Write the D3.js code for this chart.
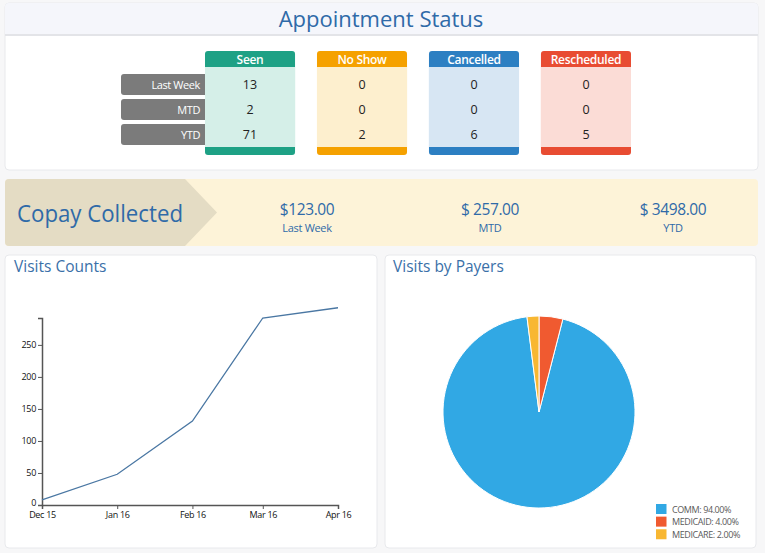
<!DOCTYPE html>
<html>
<head>
<meta charset="utf-8">
<script src="https://cdn.jsdelivr.net/npm/d3@7"></script>
<style>
  html, body { margin: 0; padding: 0; background: #f7f7f8; }
  svg { display: block; font-family: "Open Sans", "DejaVu Sans", sans-serif; }
</style>
</head>
<body>
<svg id="chart" width="765" height="553"></svg>
<script>
// ---------- data ----------
const statusCategories = ["Seen", "No Show", "Cancelled", "Rescheduled"];
const periods = ["Last Week", "MTD", "YTD"];
const seenValues = [13, 2, 71];
const noShowValues = [0, 0, 2];
const cancelledValues = [0, 0, 6];
const rescheduledValues = [0, 0, 5];

const copayPeriods = ["Last Week", "MTD", "YTD"];
const copayAmounts = ["$123.00", "$ 257.00", "$ 3498.00"];

const visitMonths = ["2015-12-01", "2016-01-01", "2016-02-01", "2016-03-01", "2016-04-01"];
const visitCounts = [8, 48, 131, 292, 308];
const visitYTicks = [0, 50, 100, 150, 200, 250];
const visitYMax = 292;

const payerNames = ["COMM", "MEDICAID", "MEDICARE"];
const payerShares = [94, 4, 2];

// ---------- styles ----------
const statusColors = {
  "Seen":        { head: "#1ea185", body: "#d5efe8" },
  "No Show":     { head: "#f5a100", body: "#fdefce" },
  "Cancelled":   { head: "#2c7fc2", body: "#d7e6f3" },
  "Rescheduled": { head: "#e84c32", body: "#fbdcd6" }
};
const payerColors = ["#31a8e4", "#f05a30", "#f8b732"];
const titleBlue = "#2f6aa8";

const svg = d3.select("#chart");

// ---------- Appointment Status panel ----------
svg.append("rect").attr("x", 5).attr("y", 3).attr("width", 753).attr("height", 167)
  .attr("rx", 4).attr("fill", "#fff").attr("stroke", "#e8e9ec");
svg.append("path").attr("d", "M5,34 V7 a4,4 0 0 1 4,-4 H754 a4,4 0 0 1 4,4 V34 Z").attr("fill", "#f5f6fb");
svg.append("line").attr("x1", 5).attr("x2", 758).attr("y1", 35).attr("y2", 35)
  .attr("stroke", "#e3e4e8").attr("stroke-width", 2);
svg.append("text").attr("x", 381).attr("y", 27).attr("text-anchor", "middle")
  .attr("font-size", 22).attr("fill", titleBlue).text("Appointment Status");

const colX = d3.scaleBand().domain(statusCategories).range([205, 631]).paddingInner(0.196).paddingOuter(0);
const rowY = d3.scaleBand().domain(periods).range([74, 145]).paddingInner(0.16).paddingOuter(0);

const statusTable = statusCategories.map((c, i) => ({
  category: c,
  values: [seenValues, noShowValues, cancelledValues, rescheduledValues][i]
}));

// row labels
const rowG = svg.append("g");
rowG.selectAll("rect").data(periods).join("rect")
  .attr("x", 121).attr("y", d => rowY(d)).attr("width", colX("Seen") - 121 + 4)
  .attr("height", rowY.bandwidth()).attr("rx", 3).attr("fill", "#7b7b7b");
rowG.selectAll("text").data(periods).join("text")
  .attr("x", colX("Seen") - 5).attr("y", d => rowY(d) + rowY.bandwidth() / 2 + 4)
  .attr("text-anchor", "end").attr("font-size", 11).attr("fill", "#fff")
  .attr("letter-spacing", -0.4).text(d => d);

const colG = svg.selectAll("g.col").data(statusTable).join("g").attr("class", "col")
  .attr("transform", d => `translate(${colX(d.category)},0)`);
const bw = colX.bandwidth();
colG.append("rect").attr("x", 0).attr("y", 51).attr("width", bw).attr("height", 104)
  .attr("rx", 3).attr("fill", d => statusColors[d.category].head);
colG.append("rect").attr("x", 0).attr("y", 67).attr("width", bw).attr("height", 80)
  .attr("fill", d => statusColors[d.category].body);
colG.append("text").attr("x", bw / 2).attr("y", 63.5).attr("text-anchor", "middle")
  .attr("font-size", 12).attr("font-weight", 600).attr("fill", "#fff")
  .attr("letter-spacing", -0.3).text(d => d.category);
colG.selectAll("text.val").data(d => d.values.map((v, i) => ({ v, p: periods[i] }))).join("text")
  .attr("class", "val").attr("x", bw / 2).attr("y", d => rowY(d.p) + rowY.bandwidth() / 2 + 4.5)
  .attr("text-anchor", "middle").attr("font-size", 12.5).attr("fill", "#222").text(d => d.v);

// ---------- Copay Collected band ----------
svg.append("rect").attr("x", 5).attr("y", 179).attr("width", 753).attr("height", 67)
  .attr("rx", 4).attr("fill", "#fdf3d8");
svg.append("path").attr("d", "M9,179 H185 L217,212.5 L185,246 H9 a4,4 0 0 1 -4,-4 V183 a4,4 0 0 1 4,-4 Z")
  .attr("fill", "#e4dcc4");
svg.append("text").attr("x", 17).attr("y", 222).attr("font-size", 23.5).attr("fill", titleBlue)
  .attr("textLength", 166).attr("lengthAdjust", "spacingAndGlyphs").text("Copay Collected");

const copayX = d3.scalePoint().domain(copayPeriods).range([307, 673]);
const copayG = svg.selectAll("g.copay").data(copayPeriods.map((p, i) => ({ p, amt: copayAmounts[i] })))
  .join("g").attr("class", "copay").attr("transform", d => `translate(${copayX(d.p)},0)`);
copayG.append("text").attr("x", 0).attr("y", 215).attr("text-anchor", "middle")
  .attr("font-size", 15.5).attr("fill", titleBlue).attr("letter-spacing", -0.4).text(d => d.amt);
copayG.append("text").attr("x", 0).attr("y", 232).attr("text-anchor", "middle")
  .attr("font-size", 11).attr("fill", titleBlue).attr("letter-spacing", -0.3).text(d => d.p);

// ---------- bottom panels ----------
[[5, 372], [385, 371]].forEach(([x, w]) => {
  svg.append("rect").attr("x", x).attr("y", 255).attr("width", w).attr("height", 293)
    .attr("rx", 4).attr("fill", "#fff").attr("stroke", "#e8e9ec");
});
svg.append("text").attr("x", 14).attr("y", 272).attr("font-size", 15.5).attr("fill", "#3a70a8")
  .text("Visits Counts");
svg.append("text").attr("x", 393).attr("y", 272).attr("font-size", 15.5).attr("fill", "#3a70a8")
  .text("Visits by Payers");

// ---------- line chart ----------
const parseDate = d3.timeParse("%Y-%m-%d");
const visitData = visitMonths.map((m, i) => ({ date: parseDate(m), value: visitCounts[i] }));
const x = d3.scaleTime().domain(d3.extent(visitData, d => d.date)).range([42, 338]);
const y = d3.scaleLinear().domain([0, visitYMax]).range([505, 318]);

const lineG = svg.append("g");
const xAxis = lineG.append("g").attr("transform", "translate(0,505)")
  .call(d3.axisBottom(x).tickValues(visitData.map(d => d.date)).tickFormat(d3.timeFormat("%b %y"))
    .tickSize(4).tickSizeOuter(4).tickPadding(3));
const yAxis = lineG.append("g").attr("transform", "translate(42,0)")
  .call(d3.axisLeft(y).tickValues(visitYTicks).tickSize(4).tickSizeOuter(4).tickPadding(2));
[xAxis, yAxis].forEach(a => {
  a.select(".domain").attr("stroke", "#555").attr("stroke-width", 1.5);
  a.selectAll(".tick line").attr("stroke", "#555");
  a.selectAll("text").attr("font-size", 9).attr("fill", "#111")
    .attr("font-family", "'Open Sans', sans-serif").attr("letter-spacing", -0.3);
});
yAxis.selectAll(".tick text").filter(d => d === 0).attr("dy", "0em");
lineG.append("path").datum(visitData)
  .attr("fill", "none").attr("stroke", "#4a77a3").attr("stroke-width", 1.3)
  .attr("d", d3.line().x(d => x(d.date)).y(d => y(d.value)));

// ---------- pie chart ----------
const payerData = payerNames.map((n, i) => ({ name: n, share: payerShares[i], color: payerColors[i] }));
const startA = -2 * Math.PI * (payerShares[2] / d3.sum(payerShares));
const pie = d3.pie().value(d => d.share).sort(null).startAngle(startA).endAngle(startA - 2 * Math.PI);
const arc = d3.arc().innerRadius(0).outerRadius(96);
svg.append("g").attr("transform", "translate(539,412)")
  .selectAll("path").data(pie(payerData)).join("path")
  .attr("d", arc).attr("fill", d => d.data.color).attr("stroke", "#fff").attr("stroke-width", 1);

const legY = d3.scaleBand().domain(payerNames).range([504, 540]).paddingInner(0.15);
const leg = svg.append("g").selectAll("g").data(payerData).join("g")
  .attr("transform", d => `translate(656,${legY(d.name)})`);
leg.append("rect").attr("width", 10.5).attr("height", 10).attr("fill", d => d.color);
leg.append("text").attr("x", 16).attr("y", 8.5).attr("font-size", 9).attr("fill", "#5a5a5a")
  .attr("letter-spacing", -0.4)
  .text(d => `${d.name}: ${d.share.toFixed(2)}%`);
</script>
</body>
</html>
